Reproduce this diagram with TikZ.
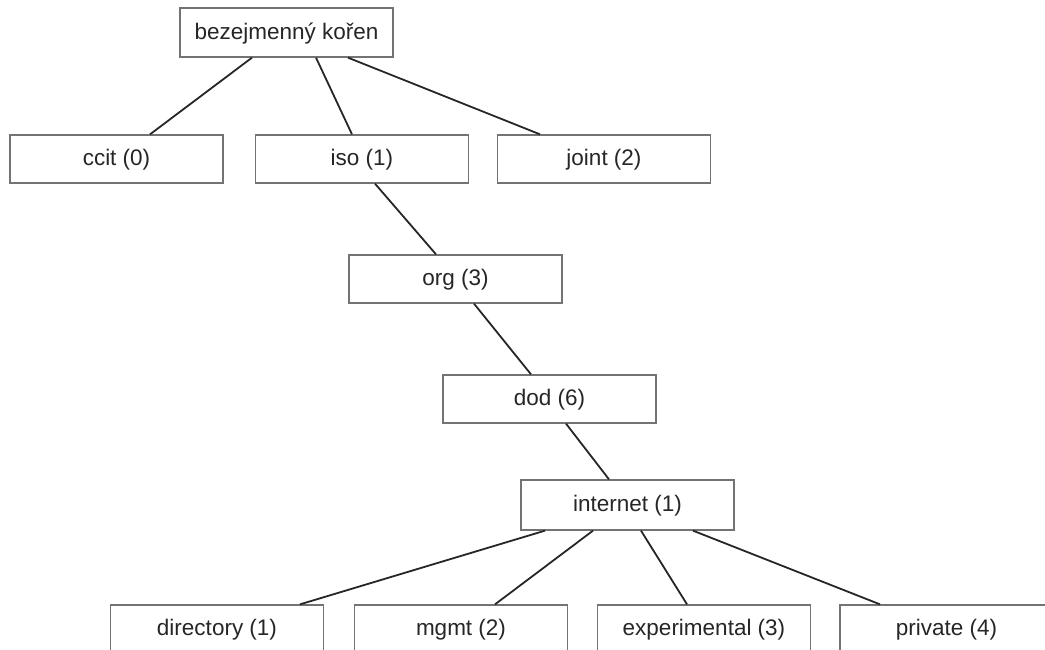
\documentclass[tikz,border=0pt]{standalone}
\usepackage{fontspec}
\setmainfont{Liberation Sans}
\begin{document}
\begin{tikzpicture}[x=1pt,y=-1pt,
  oidbox/.style={draw=black!55,line width=1.3pt,fill=white,rectangle,
    minimum width=213pt,minimum height=48pt,inner sep=0pt,
    text depth=3pt,
    font=\fontsize{22.5}{26}\selectfont,text=black!85},
  link/.style={draw=black!85,line width=1.8pt}]
\useasboundingbox (0,0) rectangle (1045,650);
\clip (0,0) rectangle (1045,650);
% tree nodes
\node[oidbox,minimum height=49pt] (root) at (286.5,32.5) {bezejmenný kořen};
\node[oidbox] (ccit)  at (116.5,159) {ccit (0)};
\node[oidbox] (iso)   at (362,159)   {iso (1)};
\node[oidbox] (joint) at (604,159)   {joint (2)};
\node[oidbox] (org)   at (455.5,279) {org (3)};
\node[oidbox] (dod)   at (549.5,399) {dod (6)};
\node[oidbox,minimum height=50pt] (inet) at (627.5,505) {internet (1)};
\node[oidbox] (dir)   at (217,629)   {directory (1)};
\node[oidbox] (mgmt)  at (461,629)   {mgmt (2)};
\node[oidbox] (exp)   at (704,629)   {experimental (3)};
\node[oidbox,minimum width=220pt] (priv) at (950,629) {\hspace*{-7pt}private (4)};
% edges
\draw[link] ([xshift=-34.5pt]root.south) -- ([xshift=33.5pt]ccit.north);
\draw[link] ([xshift=29.5pt]root.south) -- ([xshift=-10pt]iso.north);
\draw[link] ([xshift=61.5pt]root.south) -- ([xshift=-64pt]joint.north);
\draw[link] ([xshift=13pt]iso.south) -- ([xshift=-19.5pt]org.north);
\draw[link] ([xshift=18.5pt]org.south) -- ([xshift=-18.5pt]dod.north);
\draw[link] ([xshift=16.5pt]dod.south) -- ([xshift=-18.5pt]inet.north);
\draw[link] ([xshift=-82.5pt]inet.south) -- ([xshift=83pt]dir.north);
\draw[link] ([xshift=-34.5pt]inet.south) -- ([xshift=34pt]mgmt.north);
\draw[link] ([xshift=13.5pt]inet.south) -- ([xshift=-17pt]exp.north);
\draw[link] ([xshift=65.5pt]inet.south) -- ([xshift=-70pt]priv.north);
\end{tikzpicture}
\end{document}
